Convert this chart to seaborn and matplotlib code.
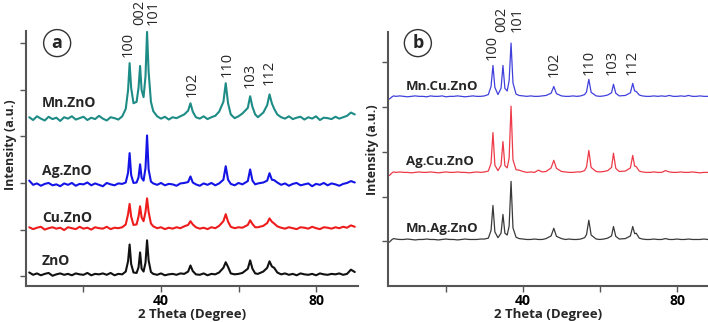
import matplotlib.pyplot as plt
import numpy as np
import pandas as pd
import seaborn as sns

# 2 theta grid of the read points (panel a)
THETA_A = [6, 7, 8, 9, 10, 11, 12, 13, 14, 15, 16, 17, 18, 19, 20, 21, 22, 23,
           24, 25, 26, 27, 28, 29, 30,
           30.9, 31.5, 31.9, 32.3, 32.9, 33.7, 34.2, 34.6, 35.0, 35.5, 36.0,
           36.4, 36.8, 37.4,
           38, 39, 40, 41, 42, 43, 44, 45, 46,
           47.0, 47.6, 48.2,
           49, 50, 51, 52, 53, 54, 55,
           56.1, 56.7, 57.3,
           58, 59, 60, 61,
           62.4, 63.0, 63.6, 64.3, 65, 66.4, 67.4, 68.0, 68.6, 69.2,
           70, 71, 72, 73, 74, 75, 76, 77, 78, 79, 80, 81, 82, 83, 84, 85, 86,
           87, 88, 89, 90]

MN_ZNO = [12, 6, 14, 9, 5, 13, 8, 11, 4, 12, 9, 14, 7, 10, 13, 6, 11, 8, 15,
          9, 5, 12, 10, 7, 14,
          30, 70, 128, 75, 42, 45, 75, 122, 70, 55, 100, 195, 110, 45,
          25, 14, 9, 13, 7, 12, 10, 14, 18,
          26, 42, 24,
          12, 9, 14, 8, 12, 15, 24,
          45, 85, 42,
          18, 10, 14, 20,
          32, 57, 34, 18, 12, 22, 38, 61, 42, 30,
          18, 12, 9, 14, 8, 11, 13, 7, 12, 9, 14, 6, 11, 10, 8, 13, 9, 12,
          15, 22, 18]
AG_ZNO = [18, 9, 12, 7, 11, 13, 8, 10, 6, 12, 9, 13, 7, 11, 10, 14, 8, 12, 9,
          6, 13, 10, 8, 12, 11,
          14, 35, 77, 30, 13, 14, 25, 53, 24, 18, 45, 115, 42, 16,
          12, 9, 13, 8, 11, 10, 7, 12, 13,
          15, 27, 14,
          10, 7, 12, 9, 13, 8, 12,
          20, 49, 20,
          11, 8, 13, 10,
          17, 42, 18, 10, 12, 14, 18, 34, 20, 19,
          14, 9, 12, 7, 11, 13, 8, 10, 12, 6, 11, 9, 13, 8, 12, 10, 7, 11,
          13, 17, 14]
CU_ZNO = [12, 8, 11, 13, 7, 10, 12, 9, 11, 6, 12, 10, 8, 13, 9, 11, 7, 12, 10,
          9, 13, 8, 11, 10, 12,
          18, 40, 62, 35, 17, 18, 35, 57, 33, 25, 45, 74, 45, 20,
          14, 10, 12, 8, 11, 9, 12, 10, 14,
          17, 25, 18,
          12, 9, 11, 8, 12, 10, 15,
          25, 40, 24,
          13, 10, 12, 11,
          17, 27, 19, 12, 12, 15, 21, 31, 24, 20,
          14, 11, 9, 12, 10, 8, 12, 11, 9, 13, 10, 8, 12, 11, 9, 12, 10, 13,
          11, 16, 13]
ZNO = [14, 9, 12, 8, 11, 13, 7, 10, 12, 9, 11, 8, 12, 10, 9, 13, 8, 11, 10,
       12, 9, 13, 8, 11, 10,
       16, 38, 74, 32, 14, 13, 25, 57, 22, 16, 35, 83, 40, 15,
       11, 9, 12, 8, 10, 11, 9, 12, 11,
       16, 29, 17,
       10, 9, 12, 8, 11, 10, 14,
       24, 36, 26,
       12, 10, 11, 13,
       22, 40, 22, 12, 11, 16, 24, 38, 27, 24,
       14, 10, 12, 9, 11, 8, 12, 10, 9, 11, 8, 12, 10, 9, 11, 10, 12, 9,
       11, 20, 15]

# 2 theta grid of the read points (panel b)
THETA_B = [5.3, 6.0, 6.4, 7, 8, 9, 10, 11, 12, 13, 14, 15, 16, 17, 18, 19, 20,
           21, 22, 23, 24, 25, 26, 27, 28, 29, 30,
           31.0, 31.7, 32.2, 32.7, 33.5, 34.3, 34.8, 35.3, 35.9, 36.4, 36.9,
           37.4, 38.2,
           39, 40, 41, 42, 43, 44, 45, 46,
           47.3, 48.0, 48.7,
           50, 51, 52, 53, 54, 55, 56,
           56.5, 57.1, 57.7,
           59, 60, 61, 62,
           63.0, 63.5, 64.1, 65, 66.6, 67.9, 68.5, 69.0, 69.4, 70.2,
           71, 72, 73, 74, 75, 76, 77, 78, 79, 80, 81, 82, 83, 84, 85, 86, 87,
           88]

MN_CU_ZNO = [4, 9, 11, 10, 11, 10, 9, 10, 11, 10, 10, 9, 11, 10, 10, 11, 9,
             10, 10, 11, 10, 9, 10, 11, 10, 10, 11,
             14, 32, 79, 30, 14, 28, 79, 28, 22, 45, 129, 40, 15,
             12, 11, 10, 11, 10, 10, 11, 12,
             17, 32, 16,
             11, 10, 10, 11, 10, 11, 14,
             20, 48, 19,
             11, 10, 11, 13,
             18, 37, 17, 11, 12, 18, 39, 22, 21, 13,
             11, 10, 10, 11, 10, 11, 10, 12, 10, 10, 11, 10, 12, 10, 10, 11,
             10, 10]
AG_CU_ZNO = [3, 9, 11, 10, 11, 10, 10, 9, 10, 11, 10, 10, 11, 10, 9, 10, 11,
             10, 10, 11, 10, 10, 9, 10, 11, 10, 11,
             13, 30, 99, 26, 14, 26, 79, 25, 20, 42, 158, 38, 16,
             15, 12, 10, 11, 10, 15, 11, 12,
             20, 37, 19,
             12, 11, 10, 10, 11, 11, 14,
             22, 59, 21,
             12, 11, 12, 14,
             21, 53, 19, 12, 13, 20, 48, 24, 23, 13,
             11, 10, 10, 11, 10, 10, 14, 11, 10, 10, 11, 10, 10, 11, 10, 9,
             10, 10]
MN_AG_ZNO = [4, 10, 12, 11, 10, 10, 11, 10, 9, 10, 10, 11, 10, 10, 9, 10, 11,
             10, 10, 9, 10, 11, 10, 10, 10, 11, 11,
             13, 30, 86, 27, 14, 24, 66, 24, 20, 40, 140, 36, 15,
             12, 11, 10, 10, 11, 10, 10, 12,
             18, 35, 17,
             12, 10, 11, 10, 10, 11, 14,
             21, 53, 20,
             11, 10, 11, 13,
             18, 39, 17, 11, 12, 18, 39, 23, 24, 13,
             11, 10, 10, 11, 10, 10, 12, 10, 10, 11, 10, 10, 11, 10, 10, 10,
             11, 10]

HKL = ['100', '002', '101', '102', '110', '103', '112']

sns.set_style('ticks')
plt.rcParams['font.family'] = ['Open Sans', 'DejaVu Sans']

fig = plt.figure(figsize=(7.08, 3.22), dpi=100)
ax_a = fig.add_axes([0.0367, 0.1118, 0.469, 0.792])
ax_b = fig.add_axes([0.548, 0.1118, 0.452, 0.789])

# (name, data, vertical offset, colour)
panel_a = [('ZnO', ZNO, -6, '#111111'),
           ('Cu.ZnO', CU_ZNO, 93, '#ee1c1c'),
           ('Ag.ZnO', AG_ZNO, 187, '#1414e6'),
           ('Mn.ZnO', MN_ZNO, 329, '#1e8c86')]
panel_b = [('Mn.Ag.ZnO', MN_AG_ZNO, -6, '#3a3a3a'),
           ('Ag.Cu.ZnO', AG_CU_ZNO, 144, '#ee3a48'),
           ('Mn.Cu.ZnO', MN_CU_ZNO, 314, '#4040dc')]

for name, y, off, col in panel_a:
    df = pd.DataFrame({'theta': THETA_A, 'i': np.array(y) + off})
    sns.lineplot(data=df, x='theta', y='i', ax=ax_a, color=col,
                 linewidth=1.5, sort=False, estimator=None)
for name, y, off, col in panel_b:
    df = pd.DataFrame({'theta': THETA_B, 'i': np.array(y) + off})
    sns.lineplot(data=df, x='theta', y='i', ax=ax_b, color=col,
                 linewidth=0.9, sort=False, estimator=None)

# sample names
name_pos_a = {'Mn.ZnO': 371, 'Ag.ZnO': 225, 'Cu.ZnO': 124, 'ZnO': 32}
for name, y in name_pos_a.items():
    ax_a.text(9.3, y, name, fontsize=10, fontweight='bold', va='center')
name_pos_b = {'Mn.Cu.ZnO': 347, 'Ag.Cu.ZnO': 179, 'Mn.Ag.ZnO': 29}
for name, y in name_pos_b.items():
    ax_b.text(9.6, y, name, fontsize=9.5, fontweight='bold', va='center')

# hkl labels
hkl_a = [(31.5, 470), (34.4, 539), (38.1, 539), (48.1, 384), (57.0, 427),
         (63.0, 403), (67.9, 410)]
for lab, (x, y) in zip(HKL, hkl_a):
    ax_a.text(x, y, lab, rotation=90, fontsize=10.5, ha='center',
              va='bottom', clip_on=False)
hkl_b = [(32.0, 405), (34.6, 468), (38.4, 468), (48.1, 367), (57.3, 371),
         (63.2, 371), (68.4, 371)]
for lab, (x, y) in zip(HKL, hkl_b):
    ax_b.text(x, y, lab, rotation=90, fontsize=10.5, ha='center',
              va='bottom', clip_on=False)

# panel letters
for ax, x, y, lab in [(ax_a, 13.2, 500, 'a'), (ax_b, 12.7, 443, 'b')]:
    ax.text(x, y, lab, fontsize=13, fontweight='bold', ha='center',
            va='center',
            bbox=dict(boxstyle='circle,pad=0.25', fc='white', ec='#333333',
                      lw=1.0))

for ax, xlim, ylim, ylab_y in [(ax_a, (5.16, 90.84), (-21, 526), 0.553),
                               (ax_b, (4.94, 88.05), (-100, 468), 0.535)]:
    ax.set_xlim(xlim)
    ax.set_ylim(ylim)
    ax.set_xticks([20, 40, 60, 80])
    ax.set_xticklabels(['', '40', '', '80'])
    ax.set_yticks(np.arange(0, ylim[1], 100))
    ax.set_yticklabels([])
    ax.tick_params(direction='out', length=4, width=1, colors='#555555',
                   labelcolor='black', labelsize=10, pad=1.5)
    for lab in ax.get_xticklabels():
        lab.set_fontweight('bold')
    ax.spines['top'].set_visible(False)
    ax.spines['right'].set_visible(False)
    for s in ['left', 'bottom']:
        ax.spines[s].set_color('#555555')
        ax.spines[s].set_linewidth(1.5)
    ax.set_xlabel('2 Theta (Degree)', fontsize=9.5, fontweight='bold',
                  labelpad=0)
    ax.set_ylabel('Intensity (a.u.)', fontsize=9, fontweight='bold',
                  labelpad=1)
    ax.yaxis.label.set_y(ylab_y)

fig.savefig('out.png', dpi=100)
